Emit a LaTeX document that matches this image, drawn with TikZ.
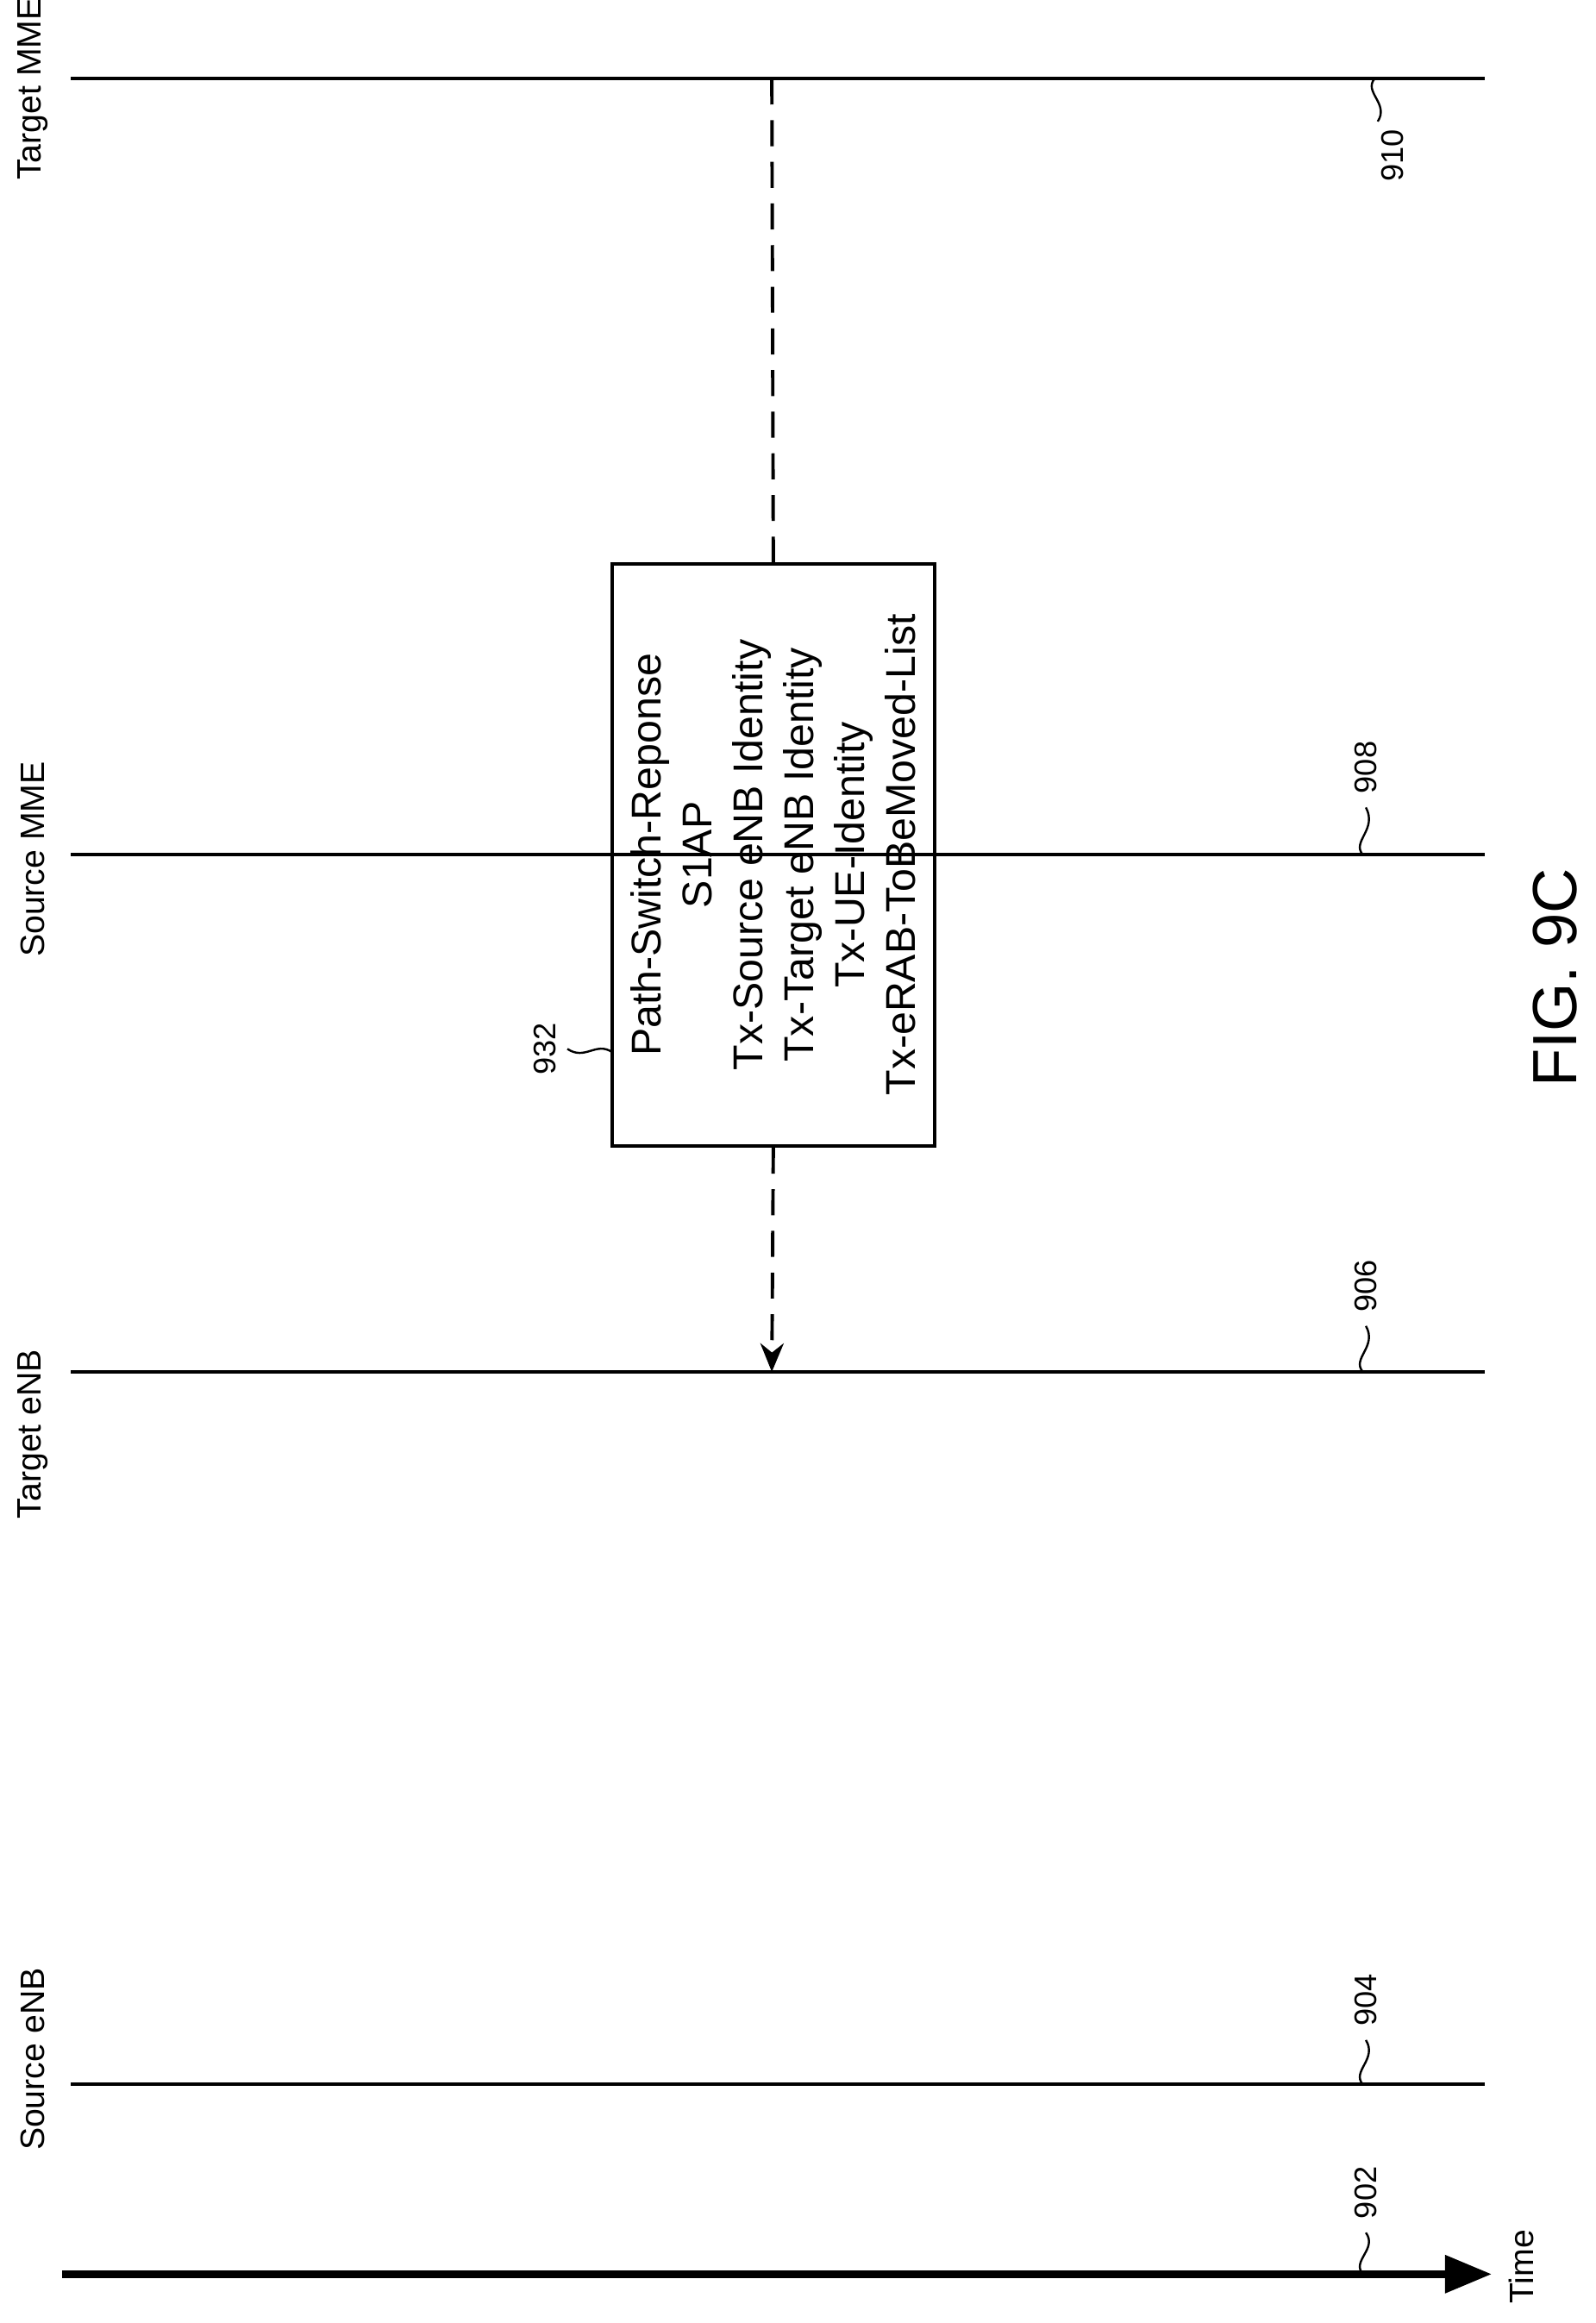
\documentclass[tikz,border=0pt]{standalone}
\usepackage{fontspec}
\setmainfont{Liberation Sans}
\usetikzlibrary{arrows.meta}
\tikzset{
  lifeline/.style={line width=1.3pt},
  lbl/.style={rotate=90, font=\fontsize{13}{15}\selectfont, inner sep=0pt},
  refnum/.style={rotate=90, font=\fontsize{12}{14}\selectfont, inner sep=0pt},
  squig/.style={line width=0.8pt},
  msgbox/.style={draw, line width=1.3pt, rotate=90, minimum width=7.86cm, minimum height=4.36cm, align=center, font=\fontsize{16}{19.5}\selectfont},
}
\begin{document}
\begin{tikzpicture}[x=0.02cm, y=-0.02cm]
				% Bounding box
				\useasboundingbox (0,0) rectangle (1077,1568);
				% Lifelines:
				\coordinate (tmmeA) at (48,53);    \coordinate (tmmeB) at (1002,53);
				\coordinate (smmeA) at (48,577);   \coordinate (smmeB) at (1002,577);
				\coordinate (tenbA) at (48,926);   \coordinate (tenbB) at (1002,926);
				\coordinate (senbA) at (48,1407);  \coordinate (senbB) at (1002,1407);
				\coordinate (timeA) at (42,1535);  \coordinate (timeB) at (1007,1535);
				\draw[lifeline] (tmmeA) -- (tmmeB);
				\draw[lifeline] (smmeA) -- (smmeB);
				\draw[lifeline] (tenbA) -- (tenbB);
				\draw[lifeline] (senbA) -- (senbB);
				\draw[line width=3pt, -{Triangle[length=18pt, width=14pt]}] (timeA) -- (timeB);
				% Labels:
				\node[lbl] (tmmeL) at (22,60) {Target MME};
				\node[lbl] (smmeL) at (22,580) {Source MME};
				\node[lbl] (tenbL) at (22,968) {Target eNB};
				\node[lbl] (senbL) at (22,1390) {Source eNB};
				\node[lbl] (timeL) at (1027,1530) {Time};
				% Message box:
				\node[msgbox] (resp) at (522,577) {Path-Switch-Reponse\\S1AP\\Tx-Source eNB Identity\\Tx-Target eNB Identity\\Tx-UE-Identity\\Tx-eRAB-ToBeMoved-List};
				\coordinate (msgsrc) at (521,53);
				\coordinate (msgdst) at (521,926);
				\draw[lifeline, dashed, dash pattern=on 10pt off 6pt] (msgsrc) -- (resp.east);
				\draw[lifeline, dashed, dash pattern=on 10pt off 6pt, -{Stealth[length=11pt, width=9pt]}] (resp.west) -- (msgdst);
				% Reference numbers:
				\node[refnum] (n910) at (940,105) {910};
				\draw[squig] (928,53) .. controls (920,62) and (938,70) .. (930,82);
				\node[refnum] (n908) at (922,518) {908};
				\draw[squig] (920,577) .. controls (912,568) and (930,560) .. (922,545);
				\node[refnum] (n906) at (922,868) {906};
				\draw[squig] (920,926) .. controls (912,917) and (930,909) .. (922,895);
				\node[refnum] (n904) at (922,1350) {904};
				\draw[squig] (920,1407) .. controls (912,1398) and (930,1390) .. (922,1377);
				\node[refnum] (n902) at (922,1480) {902};
				\draw[squig] (920,1535) .. controls (912,1526) and (930,1518) .. (922,1507);
				\node[refnum] (n932) at (368,708) {932};
				\draw[squig] (413,710) .. controls (402,703) and (395,716) .. (383,708);
				% Figure label:
				\node[rotate=90, font=\fontsize{24}{28}\selectfont] (fig) at (1050,660) {FIG. 9C};
			\end{tikzpicture}
\end{document}
